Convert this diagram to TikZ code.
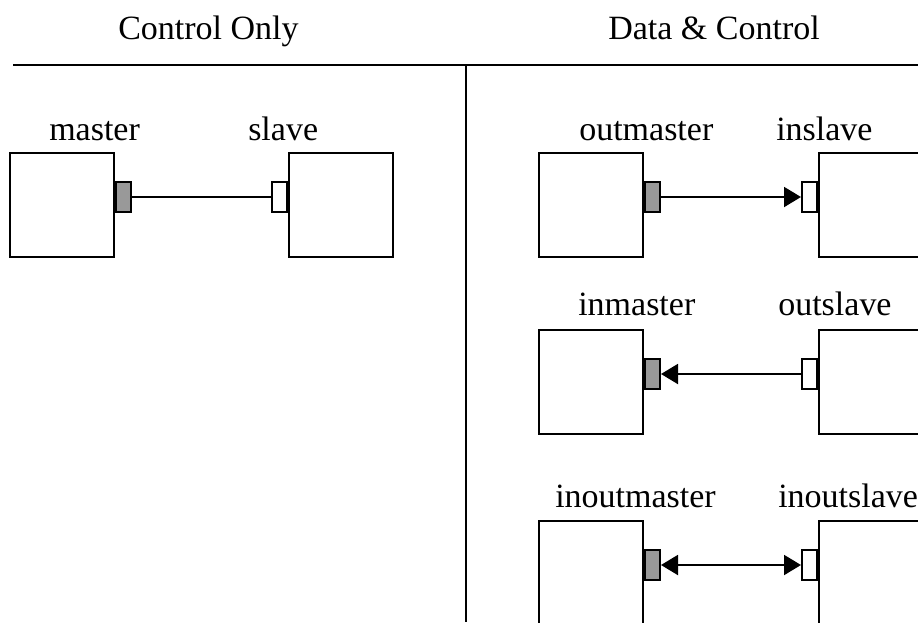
\documentclass[tikz,border=0pt]{standalone}
\usepackage{fontspec}
\setmainfont{Liberation Serif}
\usetikzlibrary{calc, positioning}
\usetikzlibrary{arrows.meta}

\tikzset{
    unitbox/.style={draw, line width=1.5pt, minimum width=104*0.75pt, minimum height=104*0.75pt, inner sep=0pt},
    mport/.style={draw, line width=1.5pt, fill=black!40, minimum width=15*0.75pt, minimum height=30*0.75pt, inner sep=0pt, anchor=west},
    sport/.style={draw, line width=1.5pt, fill=white, minimum width=15*0.75pt, minimum height=30*0.75pt, inner sep=0pt, anchor=east},
    tag/.style={anchor=base west, inner sep=0pt, font=\fontsize{25.5}{28}\selectfont},
    wire/.style={line width=1.5pt},
    tip/.tip={Triangle[length=12.75pt, width=15pt]}
}

\begin{document}
\begin{tikzpicture}[x=0.75pt, y=-0.75pt]

\useasboundingbox (0,0) rectangle (918,622);

% headings and dividers
\node[tag] (hCtrl) at (118,39) {Control Only};
\node[tag] (hData) at (608,39) {Data \& Control};

\coordinate (cLeftPt) at (13,65);
\coordinate (cRightPt) at (918,65);
\coordinate (cMidPt) at (466,65);
\coordinate (cBotPt) at (466,622);
\draw[wire] (cLeftPt) -- (cRightPt);
\draw[wire] (cMidPt) -- (cBotPt);

% boxes with their ports
\foreach \m/\s/\mx/\sx/\y/\ml/\sl/\mt/\st/\ty in
{nMaster/nSlave/62/341/205/49/248/master/slave/140,
    nOutMaster/nInSlave/591/871/205/579/776/outmaster/inslave/140,
    nInMaster/nOutSlave/591/871/382/578/778/inmaster/outslave/315,
    nIOMaster/nIOSlave/591/871/573/555/778/inoutmaster/inoutslave/507
}
{
    \node[unitbox] (\m) at (\mx,\y) {};
    \node[unitbox] (\s) at (\sx,\y) {};
    \node[mport] (p\m) at ($(\m.north east)+(0,45)$) {};
    \node[sport] (p\s) at ($(\s.north west)+(0,45)$) {};
    \node[tag] (t\m) at (\ml,\ty) {\mt};
    \node[tag] (t\s) at (\sl,\ty) {\st};
};

% connectors
\draw[wire] (pnMaster.east) -- (pnSlave.west);
\draw[wire, -tip] (pnOutMaster.east) -- (pnInSlave.west);
\draw[wire, tip-] (pnInMaster.east) -- (pnOutSlave.west);
\draw[wire, tip-tip] (pnIOMaster.east) -- (pnIOSlave.west);

\end{tikzpicture}
\end{document}
